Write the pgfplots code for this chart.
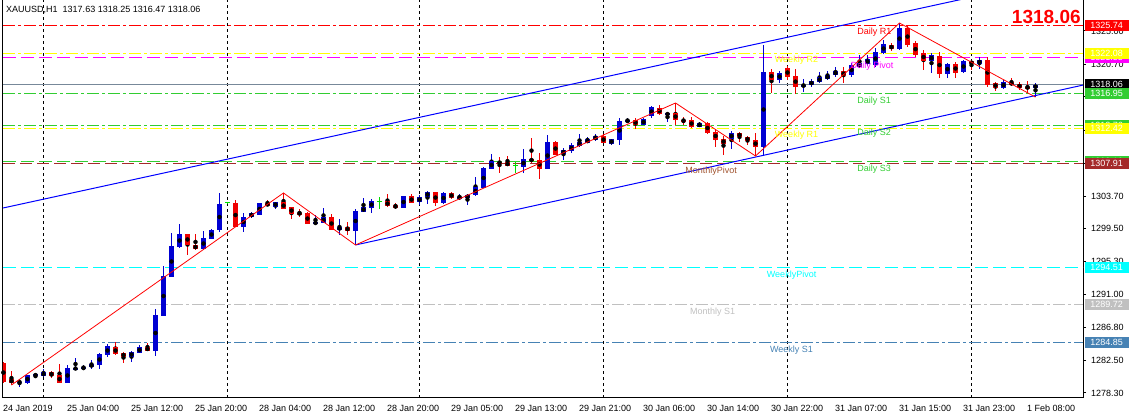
\documentclass[border=0pt]{standalone}
\usepackage{pgfplots}
\pgfplotsset{compat=1.18}
\usepackage{pgfplotstable}
\usepackage{fontspec}
\setmainfont{Liberation Sans}
\definecolor{bullc}{RGB}{0,0,210}
\definecolor{bearc}{RGB}{240,0,0}
\definecolor{dojic}{RGB}{0,220,0}
\definecolor{limeg}{RGB}{50,205,50}
\definecolor{mag}{RGB}{255,0,255}
\definecolor{yel}{RGB}{255,255,0}
\definecolor{brn}{RGB}{165,42,42}
\definecolor{brntxt}{RGB}{160,82,45}
\definecolor{cyn}{RGB}{0,255,255}
\definecolor{slv}{RGB}{192,192,192}
\definecolor{stb}{RGB}{70,130,180}
\definecolor{lsg}{RGB}{119,136,153}
\definecolor{chan}{RGB}{0,0,255}
\definecolor{zz}{RGB}{255,0,0}

\pgfplotstableread{
k o h l c
0 1282.16 1282.29 1279.58 1279.71
1 1280.10 1281.13 1279.32 1279.58
2 1279.65 1280.10 1279.06 1279.77
3 1279.58 1280.61 1279.45 1280.61
4 1280.48 1280.74 1280.23 1280.74
5 1280.48 1281.39 1280.35 1281.00
6 1281.00 1281.13 1280.23 1280.48
7 1280.61 1282.03 1279.58 1279.58
8 1279.58 1281.90 1279.58 1281.52
9 1281.39 1282.81 1281.26 1281.52
10 1281.39 1281.90 1281.26 1281.65
11 1281.65 1282.55 1281.39 1282.03
12 1281.90 1283.45 1281.39 1283.32
13 1283.19 1284.61 1282.94 1284.35
14 1284.23 1284.87 1283.19 1283.32
15 1283.45 1283.58 1282.16 1282.94
16 1282.94 1283.71 1282.29 1283.58
17 1283.45 1284.48 1283.45 1284.23
18 1284.23 1284.74 1283.71 1283.71
19 1283.71 1289.13 1283.06 1288.35
20 1288.23 1294.68 1288.23 1293.39
21 1293.26 1298.94 1293.26 1297.26
22 1297.13 1300.10 1297.00 1298.81
23 1298.81 1298.81 1296.10 1297.39
24 1297.39 1298.81 1296.74 1296.87
25 1296.87 1299.19 1296.87 1298.29
26 1298.16 1299.45 1298.16 1299.32
27 1299.32 1304.10 1299.06 1302.68
28 1302.81 1302.94 1302.68 1302.81
29 1302.81 1303.19 1299.71 1299.71
30 1299.71 1301.52 1299.06 1301.00
31 1301.00 1301.65 1300.87 1301.52
32 1301.26 1302.81 1301.26 1302.81
33 1302.81 1303.19 1302.42 1302.42
34 1302.29 1302.94 1302.03 1302.94
35 1302.94 1304.10 1302.03 1302.03
36 1302.29 1302.29 1300.74 1301.39
37 1301.52 1302.03 1301.00 1301.39
38 1301.52 1301.65 1300.10 1300.10
39 1300.10 1301.26 1299.97 1300.35
40 1300.23 1302.16 1300.23 1301.00
41 1301.00 1301.39 1299.32 1299.32
42 1299.32 1300.74 1298.68 1299.71
43 1299.71 1300.35 1298.68 1299.19
44 1299.19 1302.03 1297.39 1301.77
45 1301.65 1303.45 1301.65 1302.29
46 1302.16 1303.32 1301.52 1303.06
47 1303.03 1303.58 1302.03 1303.03
48 1303.06 1303.97 1302.29 1302.42
49 1302.55 1302.81 1302.03 1302.16
50 1302.16 1303.71 1302.16 1303.71
51 1303.71 1303.97 1302.81 1302.81
52 1302.94 1303.84 1302.55 1303.58
53 1303.58 1304.35 1302.68 1304.23
54 1304.23 1304.23 1302.42 1302.81
55 1302.81 1304.23 1302.68 1304.10
56 1304.10 1304.23 1303.32 1303.45
57 1303.45 1303.97 1303.19 1303.58
58 1303.45 1303.97 1302.55 1303.84
59 1303.84 1306.16 1303.71 1304.87
60 1304.74 1307.45 1304.74 1307.32
61 1307.19 1309.13 1307.19 1308.23
62 1308.10 1308.74 1306.68 1307.97
63 1308.10 1308.87 1307.58 1307.58
64 1307.67 1308.10 1306.68 1307.67
65 1307.45 1309.77 1306.68 1308.48
66 1308.48 1311.19 1307.97 1308.23
67 1308.35 1309.26 1305.90 1307.19
68 1307.19 1311.58 1307.19 1310.68
69 1310.68 1310.81 1309.00 1309.00
70 1309.13 1309.90 1308.35 1309.65
71 1309.52 1310.55 1309.26 1310.29
72 1310.16 1311.71 1310.03 1310.68
73 1310.55 1311.32 1310.55 1311.06
74 1310.94 1311.71 1310.81 1311.45
75 1311.45 1311.71 1310.55 1310.55
76 1310.42 1311.06 1310.29 1311.06
77 1310.94 1313.77 1310.29 1313.39
78 1313.26 1313.77 1313.13 1313.52
79 1313.52 1313.77 1312.35 1312.87
80 1312.87 1313.77 1312.87 1313.65
81 1314.03 1315.32 1313.77 1315.19
82 1315.06 1315.45 1314.16 1314.29
83 1314.16 1314.55 1313.26 1314.42
84 1314.42 1315.71 1312.87 1313.52
85 1313.52 1313.90 1312.87 1313.39
86 1313.52 1313.90 1312.48 1312.61
87 1312.61 1313.26 1312.61 1313.13
88 1313.13 1313.26 1311.71 1311.84
89 1311.97 1312.35 1310.03 1310.94
90 1311.06 1311.45 1309.00 1310.42
91 1311.06 1312.10 1309.77 1311.84
92 1311.84 1311.97 1310.68 1311.32
93 1311.32 1311.45 1310.29 1310.81
94 1310.94 1311.84 1308.87 1310.03
95 1310.03 1323.19 1309.00 1319.71
96 1319.71 1320.10 1317.00 1318.68
97 1318.68 1319.84 1318.29 1319.58
98 1320.23 1320.48 1318.68 1319.06
99 1319.19 1320.10 1316.87 1317.77
100 1317.90 1318.81 1317.13 1318.03
101 1318.03 1318.81 1317.77 1318.55
102 1318.42 1319.71 1318.29 1319.06
103 1318.81 1319.84 1318.68 1319.32
104 1319.32 1320.35 1319.06 1319.84
105 1319.84 1320.35 1318.29 1319.19
106 1319.32 1320.87 1319.06 1320.61
107 1320.35 1321.90 1320.23 1320.87
108 1320.74 1321.90 1320.48 1321.39
109 1320.61 1322.81 1320.35 1322.29
110 1322.16 1323.84 1322.03 1323.32
111 1323.19 1323.45 1322.42 1322.68
112 1322.68 1326.03 1322.55 1325.39
113 1325.39 1325.65 1322.94 1323.19
114 1323.45 1323.71 1321.65 1321.90
115 1322.16 1322.55 1319.97 1321.13
116 1321.13 1322.16 1319.58 1321.90
117 1321.77 1322.29 1318.94 1319.45
118 1319.45 1320.87 1318.94 1320.74
119 1320.74 1321.00 1318.94 1319.58
120 1319.71 1321.26 1319.58 1321.13
121 1321.13 1321.26 1319.97 1320.74
122 1320.74 1321.65 1320.10 1321.26
123 1321.26 1321.65 1317.77 1318.03
124 1318.29 1318.42 1317.26 1317.65
125 1317.65 1318.68 1317.52 1318.42
126 1318.42 1318.94 1317.90 1318.03
127 1318.16 1318.42 1317.39 1317.65
128 1317.77 1318.55 1317.00 1317.65
129 1317.63 1318.25 1316.47 1318.06
}\candles

\tikzset{
  dashdotmt/.style={dash pattern=on 12bp off 3bp on 3bp off 3bp},
  dashmt/.style={dash pattern=on 13bp off 5bp},
  lvltxt/.style={anchor=west, inner sep=0pt, font=\fontsize{9bp}{10bp}\selectfont},
  pbox/.style={anchor=west, inner sep=0pt, xshift=1.5bp, minimum width=44bp, minimum height=11bp, text=white, font=\fontsize{9bp}{10bp}\selectfont},
}
\pgfplotsset{
  lvl/.style={line width=1bp, forget plot},
}

% #1 = domain of (c - o), #2 = colour
\newcommand\candleset[2]{%
  \addplot[only marks, mark=none, forget plot,
    restrict expr to domain={\thisrow{c}-\thisrow{o}}{#1},
    error bars/.cd, y dir=both, y explicit, error mark=none,
    error bar style={draw=#2, line width=1bp, solid}]
    table[x=k, y expr={(\thisrow{h}+\thisrow{l})/2}, y error expr={(\thisrow{h}-\thisrow{l})/2}] {\candles};
  \addplot[only marks, mark=none, forget plot,
    restrict expr to domain={\thisrow{c}-\thisrow{o}}{#1},
    error bars/.cd, y dir=both, y explicit, error mark=none,
    error bar style={draw=#2, line width=5bp, solid}]
    table[x=k, y expr={(\thisrow{o}+\thisrow{c})/2}, y error expr={abs(\thisrow{c}-\thisrow{o})/2}] {\candles};
}

\begin{document}
\begin{tikzpicture}
\begin{axis}[name=ax,
  width=1080bp, height=398bp, scale only axis,
  xmin=-0.0625, xmax=134.9375, ymin=1277.645, ymax=1329,
  axis line style={black, line width=1bp},
  clip mode=individual,
  tick label style={font=\fontsize{9bp}{10bp}\selectfont, black},
  xtick={0,8,...,128},
  xticklabels={24 Jan 2019, 25 Jan 04:00, 25 Jan 12:00, 25 Jan 20:00, 28 Jan 04:00, 28 Jan 12:00, 28 Jan 20:00, 29 Jan 05:00, 29 Jan 13:00, 29 Jan 21:00, 30 Jan 06:00, 30 Jan 14:00, 30 Jan 22:00, 31 Jan 07:00, 31 Jan 15:00, 31 Jan 23:00, 1 Feb 08:00},
  xtick style={draw=none},
  xticklabel style={anchor=north west, inner sep=0pt, xshift=-0.5bp, yshift=-4bp},
  ytick={1278.30,1282.50,1286.80,1291.00,1295.30,1299.50,1303.70,1307.90,1312.20,1316.50,1320.70,1325.00},
  yticklabels={1278.30,1282.50,1286.80,1291.00,1295.30,1299.50,1303.70,1307.90,1312.20,1316.50,1320.70,1325.00},
  ytick pos=right, yticklabel pos=right,
  tick align=outside, major tick length=3bp,
  ytick style={black, line width=1bp},
  yticklabel style={anchor=west, inner sep=0pt, xshift=5bp},
  extra x ticks={5,28,52,75,98,121}, extra x tick labels={},
  extra x tick style={grid=major, major tick length=0pt},
  major grid style={black, line width=1bp, dash pattern=on 3bp off 3bp},
]
% level lines
\addplot[lvl, zz, dashdotmt] coordinates {(-0.0625,1325.74) (134.9375,1325.74)};
\addplot[lvl, yel, dashdotmt] coordinates {(-0.0625,1322.08) (134.9375,1322.08)};
\addplot[lvl, mag, dashmt] coordinates {(-0.0625,1321.55) (134.9375,1321.55)};
\addplot[lvl, lsg] coordinates {(-0.0625,1318.06) (134.9375,1318.06)};
\addplot[lvl, limeg, dashdotmt] coordinates {(-0.0625,1316.95) (134.9375,1316.95)};
\addplot[lvl, limeg, dashdotmt] coordinates {(-0.0625,1312.76) (134.9375,1312.76)};
\addplot[lvl, yel, dashdotmt] coordinates {(-0.0625,1312.42) (134.9375,1312.42)};
\addplot[lvl, limeg, dashmt] coordinates {(-0.0625,1308.16) (134.9375,1308.16)};
\addplot[lvl, brn, dash pattern=on 12bp off 5bp] coordinates {(-0.0625,1307.91) (134.9375,1307.91)};
\addplot[lvl, cyn, dashmt] coordinates {(-0.0625,1294.51) (134.9375,1294.51)};
\addplot[lvl, slv, dashdotmt] coordinates {(-0.0625,1289.72) (134.9375,1289.72)};
\addplot[lvl, stb, dashdotmt] coordinates {(-0.0625,1284.85) (134.9375,1284.85)};

% candles
\candleset{0.001:100}{bullc}
\candleset{-100:-0.001}{bearc}
\addplot[only marks, mark=-, mark size=2.5bp, mark options={draw=dojic, line width=1bp}, forget plot,
  restrict expr to domain={\thisrow{c}-\thisrow{o}}{-0.001:0.001},
  error bars/.cd, y dir=both, y explicit, error mark=none,
  error bar style={draw=dojic, line width=1bp, solid}]
  table[x=k, y=o, y error plus expr={\thisrow{h}-\thisrow{o}}, y error minus expr={\thisrow{o}-\thisrow{l}}] {\candles};

% channel and zigzag
\addplot[line width=1bp, chan, forget plot] coordinates {(-0.0625,1302.16) (125,1330.26)};
\addplot[line width=1bp, chan, forget plot] coordinates {(44,1297.39) (134.9375,1318.02)};
\addplot[line width=0.8bp, zz, forget plot] coordinates {(1,1279.32) (35,1304.10) (44,1297.39) (84,1315.71) (94,1308.87) (112,1326.03) (129,1316.47)};

% level labels
\node[lvltxt, text=zz] at (axis cs:106.7,1324.87) {Daily R1};
\node[lvltxt, text=yel] at (axis cs:96.4,1321.26) {Weekly R2};
\node[lvltxt, text=mag] at (axis cs:105.9,1320.48) {Daily Pivot};
\node[lvltxt, text=limeg] at (axis cs:106.7,1315.97) {Daily S1};
\node[lvltxt, text=yel] at (axis cs:96.4,1311.58) {Weekly R1};
\node[lvltxt, text=limeg] at (axis cs:106.7,1311.84) {Daily S2};
\node[lvltxt, text=limeg] at (axis cs:106.7,1307.19) {Daily S3};
\node[lvltxt, text=brntxt] at (axis cs:85.2,1306.94) {MonthlyPivot};
\node[lvltxt, text=cyn] at (axis cs:95.4,1293.52) {WeeklyPivot};
\node[lvltxt, text=slv] at (axis cs:85.8,1288.74) {Monthly S1};
\node[lvltxt, text=stb] at (axis cs:95.8,1283.84) {Weekly S1};

% price boxes
\node[pbox, fill=mag] at (axis cs:134.9375,1321.55) {1321.55};
\node[pbox, fill=yel] at (axis cs:134.9375,1322.08) {1322.08};
\node[pbox, fill=zz] at (axis cs:134.9375,1325.74) {1325.74};
\node[pbox, fill=black] at (axis cs:134.9375,1318.06) {1318.06};
\node[pbox, fill=limeg] at (axis cs:134.9375,1316.95) {1316.95};
\node[pbox, fill=limeg] at (axis cs:134.9375,1312.76) {1312.76};
\node[pbox, fill=yel] at (axis cs:134.9375,1312.42) {1312.42};
\node[pbox, fill=limeg] at (axis cs:134.9375,1308.16) {1308.16};
\node[pbox, fill=brn] at (axis cs:134.9375,1307.91) {1307.91};
\node[pbox, fill=cyn] at (axis cs:134.9375,1294.51) {1294.51};
\node[pbox, fill=slv] at (axis cs:134.9375,1289.72) {1289.72};
\node[pbox, fill=stb] at (axis cs:134.9375,1284.85) {1284.85};

% header texts
\node[anchor=west, inner sep=0pt, font=\fontsize{9bp}{10bp}\selectfont] at (axis description cs:0.0028,0.975) {XAUUSD,H1\ \ 1317.63 1318.25 1316.47 1318.06};
\node[anchor=base east, inner sep=0pt, text=zz, font=\fontsize{19bp}{20bp}\selectfont\bfseries] at (axis description cs:0.998,0.94) {1318.06};
\end{axis}
\pgfresetboundingbox
\path[use as bounding box] ([xshift=-3bp,yshift=-20bp]ax.south west) rectangle ([xshift=48bp]ax.north east);
\end{tikzpicture}
\end{document}
